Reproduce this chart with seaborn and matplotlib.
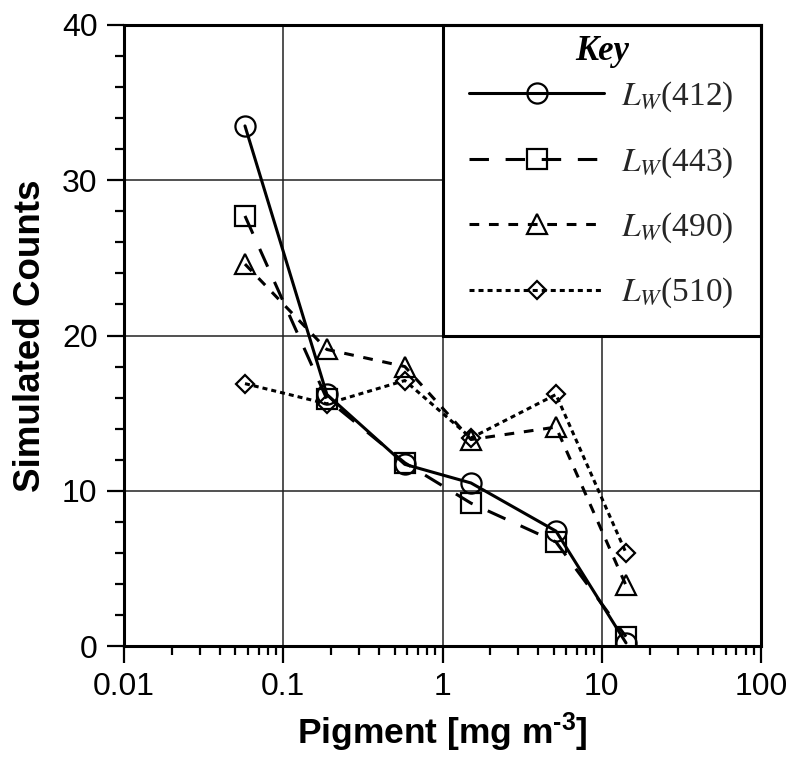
import matplotlib
matplotlib.use("Agg")
import matplotlib.pyplot as plt
from matplotlib.font_manager import FontProperties
from matplotlib.patches import Rectangle
from matplotlib.ticker import LogLocator, MultipleLocator, NullFormatter
import seaborn as sns
import numpy as np

# ---- data ----
pigment = [0.0575, 0.188, 0.58, 1.51, 5.16, 14.2]
lw412 = [33.5, 16.2, 11.7, 10.5, 7.4, 0.2]
lw443 = [27.7, 15.9, 11.8, 9.2, 6.7, 0.6]
lw490 = [24.6, 19.1, 18.0, 13.3, 14.1, 3.9]
lw510 = [16.9, 15.6, 17.1, 13.4, 16.2, 6.0]
series_labels = [r"$L_W$(412)", r"$L_W$(443)", r"$L_W$(490)", r"$L_W$(510)"]
legend_title = "Key"
x_ticks = [0.01, 0.1, 1, 10, 100]
x_ticklabels = ["0.01", "0.1", "1", "10", "100"]
y_ticks = [0, 10, 20, 30, 40]

sns.set_theme(style="white")
plt.rcParams["font.family"] = ["Liberation Sans", "DejaVu Sans"]
plt.rcParams["lines.scale_dashes"] = False
plt.rcParams["mathtext.rm"] = "Liberation Sans:bold"
plt.rcParams["mathtext.bf"] = "Liberation Sans:bold"
plt.rcParams["mathtext.it"] = "Liberation Sans:bold"

fig = plt.figure(figsize=(7.92, 7.62), dpi=100)
ax = fig.add_axes([124 / 792, (762 - 646) / 762, (761 - 124) / 792, (646 - 25) / 762])

styles = [
    dict(marker="o", ms=14.5, ls="-"),
    dict(marker="s", ms=14.5, ls=(0, (14, 12))),
    dict(marker="^", ms=14.5, ls=(0, (7, 7))),
    dict(marker="D", ms=8.8, ls=(0, (3.6, 2.9))),
]
data = [lw412, lw443, lw490, lw510]
for ys, lab, st in zip(data, series_labels, styles):
    sns.lineplot(x=pigment, y=ys, ax=ax, color="black", linewidth=2.2,
                 linestyle=st["ls"], marker=st["marker"], markersize=st["ms"],
                 markerfacecolor="none", markeredgecolor="black",
                 markeredgewidth=1.6, label=lab, sort=False, zorder=3)

ax.set_xscale("log")
ax.set_xlim(0.01, 100)
ax.set_ylim(0, 40)
ax.set_xticks(x_ticks)
ax.set_xticklabels(x_ticklabels)
ax.xaxis.set_minor_locator(LogLocator(base=10, subs=np.arange(2, 10), numticks=20))
ax.xaxis.set_minor_formatter(NullFormatter())
ax.set_yticks(y_ticks)
ax.yaxis.set_minor_locator(MultipleLocator(2))

ax.grid(True, which="major", color="#222222", linewidth=1.1)
ax.set_axisbelow(True)

for sp in ax.spines.values():
    sp.set_visible(True)
    sp.set_color("black")
    sp.set_linewidth(2.2)
    sp.set_zorder(7)

ax.tick_params(axis="both", which="major", direction="out", length=12, width=1.6,
               color="black", labelsize=23, pad=7, labelcolor="black",
               bottom=True, left=True, top=False, right=False)
ax.tick_params(axis="both", which="minor", direction="out", length=6.5, width=1.6,
               color="black", bottom=True, left=True, top=False, right=False)

xfp = FontProperties(family="Liberation Sans", weight="bold", size=25.5,
                     math_fontfamily="custom")
ax.set_xlabel(r"Pigment [mg m$^{\text{-3}}$]", fontproperties=xfp, labelpad=6, color="black")
ax.set_ylabel("Simulated Counts", fontsize=26.5, fontweight="bold", labelpad=10, color="black")

# legend box (upper-right quarter of the axes)
box = Rectangle((0.5, 0.5), 0.5, 0.5, transform=ax.transAxes, facecolor="white",
                edgecolor="black", linewidth=2.2, zorder=4, clip_on=False)
ax.add_patch(box)
tfp = FontProperties(family="Liberation Serif", size=25, weight="bold", style="italic")
ax.text(0.75, (646 - 52) / 621, legend_title, transform=ax.transAxes, ha="center",
        va="center", fontproperties=tfp, color="black", zorder=6)

lfp = FontProperties(family="Liberation Serif", size=24, math_fontfamily="stix")
leg = ax.legend(loc="center left", bbox_to_anchor=((469 - 124) / 637, (646 - 195) / 621),
                borderaxespad=0, borderpad=0, prop=lfp, frameon=False,
                handlelength=4.06, handletextpad=0.5, labelspacing=0.93,
                markerscale=1.0)
leg.set_zorder(6)

fig.savefig("out.png", dpi=100)
